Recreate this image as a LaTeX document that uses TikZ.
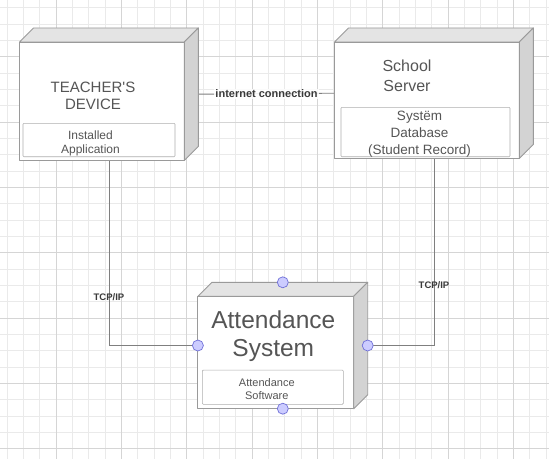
\documentclass[tikz,border=0pt]{standalone}
\usepackage{fontspec}
\setmainfont{Liberation Sans}
\usetikzlibrary{calc}
\definecolor{cline}{HTML}{7F7F7F}
\definecolor{cedge}{HTML}{9A9A9A}
\definecolor{ctop}{HTML}{E4E4E4}
\definecolor{cside}{HTML}{D3D3D3}
\definecolor{ctext}{HTML}{555555}
\definecolor{cdark}{HTML}{3A3A3A}
\definecolor{cgridmin}{HTML}{EAEAEA}
\definecolor{cgridmaj}{HTML}{D5D5D5}
\definecolor{cport}{HTML}{CCCCFF}
\definecolor{cportedge}{HTML}{7070D8}
\tikzset{
  every picture/.style={line width=0.8pt},
  gridmin/.style={draw=cgridmin, line width=0.6pt},
  gridmaj/.style={draw=cgridmaj, line width=0.7pt},
  devbox/.style={inner sep=0pt, minimum width=#1},
  face/.style={draw=cedge, line width=0.9pt, line join=round},
  inbox/.style={draw=cedge!80, line width=0.6pt, rounded corners=1pt, fill=white, inner sep=0pt},
  title/.style={align=center, text=ctext, inner sep=0pt},
  wire/.style={draw=cline, line width=0.9pt},
  lbl/.style={font=\fontsize{11}{12}\selectfont\bfseries, text=cdark, inner sep=1pt},
  port/.style={circle, draw=cportedge, fill=cport, line width=0.7pt, minimum size=11pt, inner sep=0pt},
}

\begin{document}
\begin{tikzpicture}[x=1pt, y=-1pt]
  \useasboundingbox[fill=white] (0,0) rectangle (549,459);
  % background grid
  \foreach \k in {0,...,33} \draw[gridmin] (7+\k*16.33,0) -- (7+\k*16.33,459);
  \foreach \k in {0,...,27} \draw[gridmin] (0,7.7+\k*16.33) -- (549,7.7+\k*16.33);
  \foreach \k in {3,7,...,31} \draw[gridmaj] (7+\k*16.33,0) -- (7+\k*16.33,459);
  \foreach \k in {3,7,...,27} \draw[gridmaj] (0,7.7+\k*16.33) -- (549,7.7+\k*16.33);

  % device nodes (outer boxes)
  \node[devbox=178pt, minimum height=131.7pt] (teacher) at (109,94.2) {};
  \node[devbox=198pt, minimum height=129.7pt] (server) at (434,93.2) {};
  \node[devbox=169pt, minimum height=125.6pt] (attend) at (282.8,345.5) {};

  % connectors
  \draw[wire] (teacher.east) -- node[lbl, fill=white, fill opacity=0.85, text opacity=1] {internet connection} (server.west);
  \draw[wire] (teacher.south) |- node[lbl, pos=0.37, font=\fontsize{9.5}{11}\selectfont\bfseries] {TCP/IP} (attend.west);
  \draw[wire] (server.south) |- node[lbl, pos=0.34, font=\fontsize{9.5}{11}\selectfont\bfseries] {TCP/IP} (attend.east);

  % 3d faces
  \foreach \n in {teacher, server, attend} {
    \draw[face, fill=white] (\n.south west) rectangle ($(\n.north east)+(-14,14)$);
    \draw[face, fill=ctop] ($(\n.north west)+(0,14)$) -- ($(\n.north west)+(14,0)$) -- (\n.north east) -- ($(\n.north east)+(-14,14)$) -- cycle;
    \draw[face, fill=cside] ($(\n.north east)+(-14,14)$) -- (\n.north east) -- ($(\n.south east)+(0,-14)$) -- ($(\n.south east)+(-14,0)$) -- cycle;
  }

  % titles
  \node[title, font=\fontsize{15}{17.3}\selectfont] (teachername) at (93,96) {TEACHER\textquotesingle S\\DEVICE};
  \node[title, font=\fontsize{16}{20}\selectfont] (servername) at (407,76) {School\\Server};
  \node[title, font=\fontsize{24.5}{28.5}\selectfont] (attendname) at (273.3,336) {Attendance\\System};

  % inner components
  \node[inbox, minimum width=152pt, minimum height=33.4pt] (teacherapp) at (99,140) {};
  \node[title, font=\fontsize{12}{14}\selectfont] (teacherapptext) at ($(teacherapp)+(-8.5,3.5)$) {Installed\\Application};
  \node[inbox, minimum width=169pt, minimum height=49.4pt] (serverdb) at (425.5,132) {};
  \node[title, font=\fontsize{13.5}{16.7}\selectfont] (serverdbtext) at ($(serverdb)+(-6,2)$) {Systëm\\Database\\(Student Record)};
  \node[inbox, minimum width=141pt, minimum height=34.3pt] (attendsw) at (272.8,387.2) {};
  \node[title, font=\fontsize{11}{13.3}\selectfont] (attendswtext) at ($(attendsw)+(-6,2)$) {Attendance\\Software};

  % ports
  \foreach \a/\p in {north/portn, west/portw, east/porte, south/ports}
    \node[port] (\p) at (attend.\a) {};
\end{tikzpicture}
\end{document}
